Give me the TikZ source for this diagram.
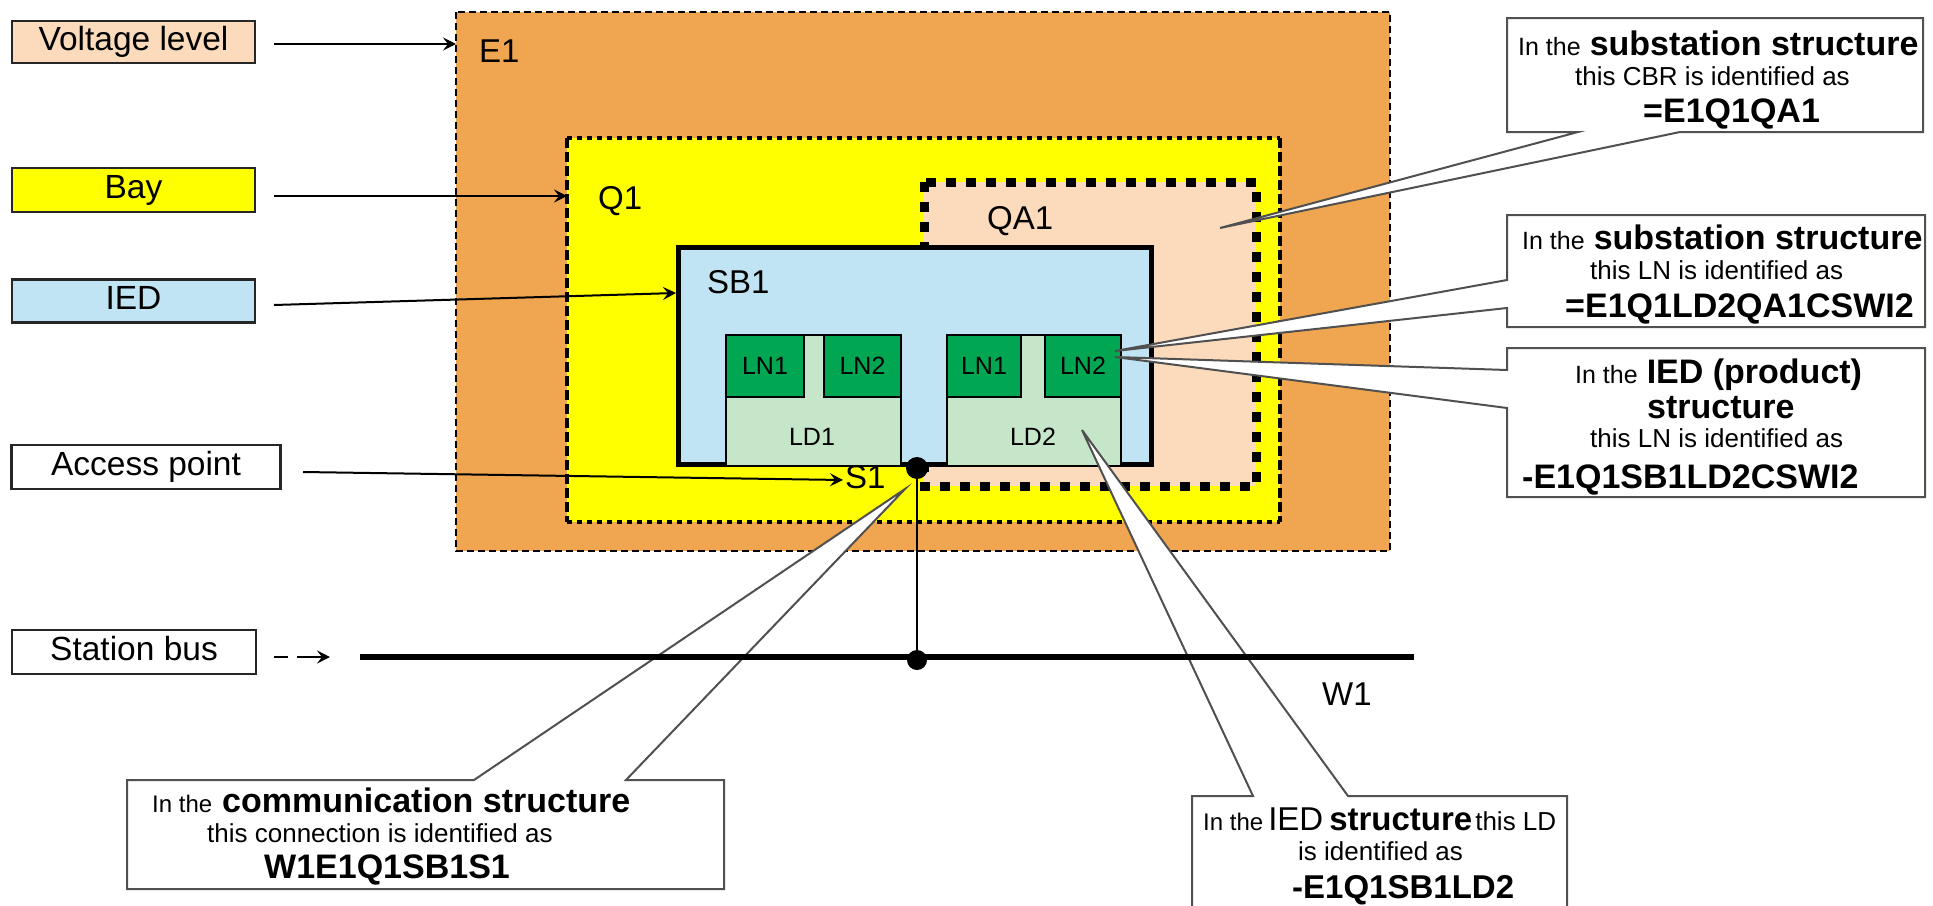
\documentclass[tikz,border=0pt]{standalone}
\usepackage{fontspec}
\setmainfont{Liberation Sans}
\usetikzlibrary{arrows.meta}
\definecolor{vlcol}{HTML}{FBDBBC}
\definecolor{e1col}{HTML}{F0A650}
\definecolor{baycol}{HTML}{FFFF00}
\definecolor{iedcol}{HTML}{C0E4F3}
\definecolor{ldcol}{HTML}{C6E6C9}
\definecolor{lncol}{HTML}{00A651}
\definecolor{cbord}{HTML}{505050}
\newcommand\fIn{\fontsize{25}{30}\selectfont}
\newcommand\fSm{\fontsize{26}{31}\selectfont}
\newcommand\fBd{\bfseries\fontsize{34}{40}\selectfont}
\newcommand\fReg{\fontsize{33}{40}\selectfont}
\begin{document}
\begin{tikzpicture}[x=1pt,y=-1pt,
  lblbox/.style={draw=black!85, line width=2.2pt, inner sep=0pt, outer sep=0pt,
     text height=24pt, text depth=7pt, font=\fontsize{33.5}{38}\selectfont},
  region/.style={inner sep=0pt, outer sep=0pt},
  arr/.style={line width=2pt, -{Stealth[length=13pt,width=13pt,inset=5pt]}},
  regfont/.style={font=\fontsize{33}{38}\selectfont, inner sep=0pt, anchor=base west},
  lnbox/.style={fill=lncol, draw=black, line width=1.5pt, inner sep=0pt, outer sep=0pt,
     font=\fontsize{25}{30}\selectfont, minimum height=62pt},
  ldbox/.style={fill=ldcol, draw=black, line width=1.5pt, inner sep=0pt, outer sep=0pt,
     minimum width=175pt, minimum height=131pt},
  ldfont/.style={font=\fontsize{25}{30}\selectfont, inner sep=0pt},
  ctext/.style={anchor=base west, inner sep=0pt},
  callout/.style={fill=white, draw=cbord, line width=2pt, line join=miter},
]
\useasboundingbox (0,0) rectangle (1933,905);

% ---------- regions ----------
\node[region, fill=e1col, minimum width=934pt, minimum height=539pt] (e1) at (923,281.5) {};
\draw[line width=2pt, dash pattern=on 7pt off 4pt] (e1.north west) rectangle (e1.south east);

\node[region, fill=baycol, minimum width=713pt, minimum height=384pt] (q1) at (923.5,330) {};
\draw[line width=4pt, dash pattern=on 5pt off 5pt] (q1.north west) -- (q1.north east) (q1.south west) -- (q1.south east);
\draw[line width=4pt, dash pattern=on 10pt off 4pt] (q1.north west) -- (q1.south west) (q1.north east) -- (q1.south east);

\node[region, fill=vlcol, minimum width=332pt, minimum height=304pt] (qa1) at (1090,334) {};
\draw[line width=9pt, dash pattern=on 10pt off 10pt] (qa1.north west) rectangle (qa1.south east);

\node[region, fill=iedcol, draw=black, line width=5pt, minimum width=473pt, minimum height=217pt] (sb1) at (914.5,355.5) {};

\node[ldbox] (ld1) at (813.5,400.5) {};
\node[ldbox, minimum width=174pt] (ld2) at (1034,400.5) {};
\node[lnbox, minimum width=78pt] (ln1a) at (765,366) {LN1};
\node[lnbox, minimum width=77pt] (ln2a) at (862.5,366) {LN2};
\node[lnbox, minimum width=74pt] (ln1b) at (984,366) {LN1};
\node[lnbox, minimum width=76pt] (ln2b) at (1083,366) {LN2};
\node[ldfont] (ld1lab) at (812,437) {LD1};
\node[ldfont] (ld2lab) at (1033,437) {LD2};

% region labels
\node[regfont] (e1lab) at (479,62) {E1};
\node[regfont] (q1lab) at (598,209) {Q1};
\node[regfont] (qa1lab) at (987,229) {QA1};
\node[regfont] (sb1lab) at (707,293) {SB1};
\node[regfont] (s1lab) at (845,488) {S1};
\node[regfont] (w1lab) at (1322,705) {W1};

% ---------- legend boxes ----------
\node[lblbox, fill=vlcol, minimum width=243pt, minimum height=42pt] (vl) at (133.5,42) {Voltage level};
\node[lblbox, fill=baycol, minimum width=243pt, minimum height=44pt] (bay) at (133.5,190) {Bay};
\node[lblbox, fill=iedcol, minimum width=243pt, minimum height=43pt] (ied) at (133.5,301) {IED};
\node[lblbox, fill=white, minimum width=269pt, minimum height=44pt] (ap) at (146,467) {Access point};
\node[lblbox, fill=white, minimum width=244pt, minimum height=44pt] (sbus) at (134,652) {Station bus};

\coordinate (vlA) at (274,44);   \coordinate (vlB) at (456,44);
\coordinate (bayA) at (274,196); \coordinate (bayB) at (567,196);
\coordinate (iedA) at (274,305); \coordinate (iedB) at (676,293);
\coordinate (apA) at (303,472);  \coordinate (apB) at (843,480);
\coordinate (sbA) at (274,657);  \coordinate (sbB) at (330,657);
\draw[arr] (vlA) -- (vlB);
\draw[arr] (bayA) -- (bayB);
\draw[arr] (iedA) -- (iedB);
\draw[arr] (apA) -- (apB);
\draw[arr, dash pattern=on 14pt off 9pt on 60pt] (sbA) -- (sbB);

% ---------- callouts ----------
\coordinate (tipCBR) at (1220,228);
\coordinate (tipLNa) at (1115,351);
\coordinate (tipLNb) at (1115,357);
\coordinate (tipS1) at (905,489);
\coordinate (tipLD) at (1082,430);

\draw[callout] (1507,18) -- (1923,18) -- (1923,132) -- (1680,132) -- (tipCBR) -- (1578,132) -- (1507,132) -- cycle;
\draw[callout] (1507,215) -- (1925,215) -- (1925,327) -- (1507,327) -- (1507,308) -- (tipLNa) -- (1507,280) -- cycle;
\draw[callout] (1507,348) -- (1925,348) -- (1925,497) -- (1507,497) -- (1507,408) -- (tipLNb) -- (1507,370) -- cycle;
\draw[callout] (127,780) -- (474,780) -- (tipS1) -- (626,780) -- (724,780) -- (724,889) -- (127,889) -- cycle;
\draw[callout] (1192,796) -- (1253,796) -- (tipLD) -- (1348,796) -- (1567,796) -- (1567,915) -- (1192,915) -- cycle;

% ---------- access point and station bus ----------
\coordinate (apdot) at (917,468);
\coordinate (busdot) at (917,660);
\coordinate (busL) at (360,657);
\coordinate (busR) at (1414,657);
\draw[line width=2.5pt] (apdot) -- (busdot);
\draw[line width=6pt] (busL) -- (busR);
\fill (apdot) circle (11pt);
\fill (busdot) circle (10pt);

% ---------- callout texts ----------
\node[ctext] (c1a) at (1518,55) {\fIn In the\kern9pt\fBd substation structure};
\node[ctext] (c1b) at (1575,85) {\fSm this CBR is identified as};
\node[ctext] (c1c) at (1643,122) {\fBd =E1Q1QA1};

\node[ctext] (c2a) at (1522,249) {\fIn In the\kern9pt\fBd substation structure};
\node[ctext] (c2b) at (1590,279) {\fSm this LN is identified as};
\node[ctext] (c2c) at (1565,317) {\fBd =E1Q1LD2QA1CSWI2};

\node[ctext] (c3a) at (1575,383) {\fIn In the\kern9pt\fBd IED (product)};
\node[ctext] (c3b) at (1647,418) {\fBd structure};
\node[ctext] (c3c) at (1590,447) {\fSm this LN is identified as};
\node[ctext] (c3d) at (1522,488) {\fBd -E1Q1SB1LD2CSWI2};

\node[ctext] (c4a) at (152,812) {{\fontsize{24}{29}\selectfont In the}\kern10pt\fBd communication structure};
\node[ctext] (c4b) at (207,842) {\fSm this connection is identified as};
\node[ctext] (c4c) at (264,878) {\fBd W1E1Q1SB1S1};

\node[ctext] (c5a) at (1203,830) {{\fontsize{24}{29}\selectfont In the}\kern5pt{\fReg IED}\kern6pt{\bfseries\fontsize{33}{40}\selectfont structure}\kern3pt{\fSm this LD}};
\node[ctext] (c5b) at (1298,860) {\fSm is identified as};
\node[ctext] (c5c) at (1292,898) {\bfseries\fontsize{33}{40}\selectfont -E1Q1SB1LD2};
\end{tikzpicture}
\end{document}
